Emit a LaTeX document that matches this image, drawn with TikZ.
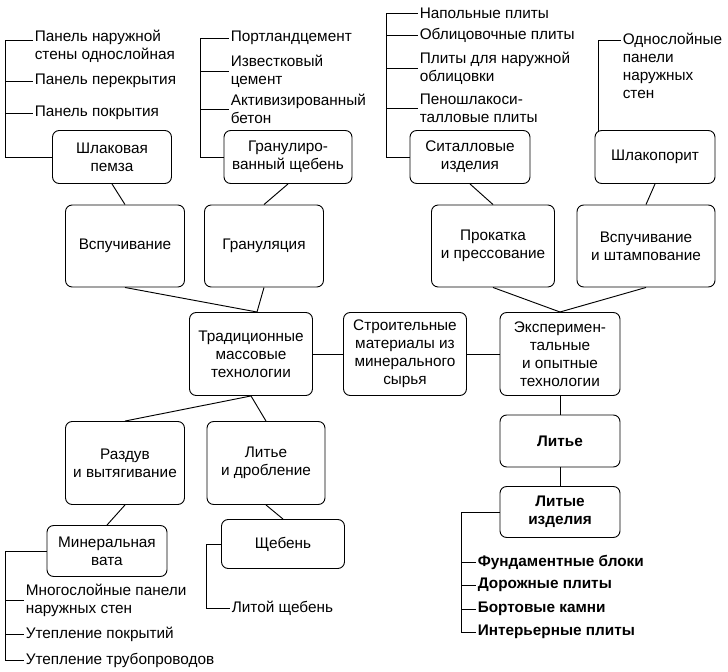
\documentclass[tikz,border=0pt]{standalone}
\usepackage{fontspec}
\setmainfont{Liberation Sans}
\usetikzlibrary{positioning}
\tikzset{
  box/.style={draw, rounded corners=5pt, align=center, inner sep=2pt},
  item/.style={anchor=west, align=left, inner sep=1pt},
  link/.style={line width=0.7pt}
}
\begin{document}
\begin{tikzpicture}[x=0.75pt,y=-0.75pt,font=\fontsize{11.5}{13.5}\selectfont,line width=0.7pt]
\useasboundingbox (0,0) rectangle (728,671);

% centre
\node[box,minimum width=123*0.75pt,minimum height=83*0.75pt] (trad) at (251,354) {Традиционные\\массовые\\технологии};
\node[box,minimum width=123*0.75pt,minimum height=83*0.75pt] (mat) at (405,354) {Строительные\\материалы из\\минерального\\сырья};
\node[box,minimum width=120*0.75pt,minimum height=83*0.75pt] (exp) at (560,354) {Эксперимен-\\тальные\\и опытные\\технологии};

% upper left
\node[box,minimum width=119*0.75pt,minimum height=82*0.75pt] (vsp) at (125,246) {Вспучивание};
\node[box,minimum width=119*0.75pt,minimum height=82*0.75pt] (gran) at (264,246) {Грануляция};
\node[box,minimum width=119*0.75pt,minimum height=53*0.75pt] (pemz) at (112,157) {Шлаковая\\пемза};
\node[box,minimum width=128*0.75pt,minimum height=53*0.75pt] (shcheb) at (288,157) {Гранулиро-\\ванный щебень};

% upper right
\node[box,minimum width=123*0.75pt,minimum height=82*0.75pt] (prok) at (493,246) {Прокатка\\и прессование};
\node[box,minimum width=138*0.75pt,minimum height=82*0.75pt] (shtamp) at (646,246) {Вспучивание\\и штампование};
\node[box,minimum width=120*0.75pt,minimum height=53*0.75pt] (sital) at (470,157) {Ситалловые\\изделия};
\node[box,minimum width=120*0.75pt,minimum height=53*0.75pt] (shlak) at (655,157) {Шлакопорит};

% lower left
\node[box,minimum width=119*0.75pt,minimum height=83*0.75pt] (razd) at (125,463) {Раздув\\и вытягивание};
\node[box,minimum width=118*0.75pt,minimum height=83*0.75pt] (litdr) at (266,463) {Литье\\и дробление};
\node[box,minimum width=120*0.75pt,minimum height=51*0.75pt] (vata) at (107,551) {Минеральная\\вата};
\node[box,minimum width=123*0.75pt,minimum height=49*0.75pt] (sheb) at (283,544) {Щебень};

% lower right
\node[box,minimum width=120*0.75pt,minimum height=52*0.75pt,font=\fontsize{11.5}{13.5}\selectfont\bfseries] (lit) at (560,441) {Литье};
\node[box,minimum width=120*0.75pt,minimum height=51*0.75pt,font=\fontsize{11.5}{13.5}\selectfont\bfseries] (litiz) at (560,512) {Литые\\изделия};

% links
\coordinate (tt) at (257,312);
\coordinate (et) at (560,312);
\draw[link] (pemz.south) -- (vsp.north);
\draw[link] (shcheb.south) -- (gran.north);
\draw[link] (vsp.south) -- (tt);
\draw[link] (gran.south) -- (tt);
\draw[link] (sital.south) -- (prok.north);
\draw[link] (shlak.south) -- (shtamp.north);
\draw[link] (prok.south) -- (et);
\draw[link] (shtamp.south) -- (et);
\draw[link] (trad) -- (mat);
\draw[link] (mat) -- (exp);
\draw[link] (trad.south) -- (razd.north);
\draw[link] (trad.south) -- (litdr.north);
\draw[link] (razd.south) -- (vata.north);
\draw[link] (litdr.south) -- (sheb.north);
\draw[link] (exp) -- (lit);
\draw[link] (lit) -- (litiz);

% list: Шлаковая пемза
\node[item] (p1) at (33,46) {Панель наружной\\стены однослойная};
\node[item] (p2) at (33,81) {Панель перекрытия};
\node[item] (p3) at (33,113) {Панель покрытия};
\coordinate (pb) at (5,40);
\draw (pemz.west) -| (pb) -- (pb -| p1.west);
\draw (pb |- p2.west) -- (p2.west);
\draw (pb |- p3.west) -- (p3.west);

% list: Гранулированный щебень
\node[item] (g1) at (229,38) {Портландцемент};
\node[item] (g2) at (229,71) {Известковый\\цемент};
\node[item] (g3) at (229,109) {Активизированный\\бетон};
\coordinate (gb) at (200,38);
\draw (shcheb.west) -| (gb) -- (g1.west);
\draw (gb |- g2.west) -- (g2.west);
\draw (gb |- g3.west) -- (g3.west);

% list: Ситалловые изделия
\node[item] (s1) at (418,13) {Напольные плиты};
\node[item] (s2) at (418,35) {Облицовочные плиты};
\node[item] (s3) at (418,68) {Плиты для наружной\\облицовки};
\node[item] (s4) at (418,108) {Пеношлакоси-\\талловые плиты};
\coordinate (sb) at (386,13);
\draw (sital.west) -| (sb) -- (s1.west);
\draw (sb |- s2.west) -- (s2.west);
\draw (sb |- s3.west) -- (s3.west);
\draw (sb |- s4.west) -- (s4.west);

% list: Шлакопорит
\node[item,anchor=north west] (k1) at (621,31) {Однослойные\\панели\\наружных\\стен};
\coordinate (kb) at (598,40);
\draw (598,130.5) -- (kb) -- (kb -| k1.west);

% list: Минеральная вата
\node[item] (v1) at (24,600) {Многослойные панели\\наружных стен};
\node[item] (v2) at (24,634) {Утепление покрытий};
\node[item] (v3) at (24,660) {Утепление трубопроводов};
\coordinate (vb) at (5,660);
\draw (vata.west) -| (vb) -- (v3.west);
\draw (vb |- v1.west) -- (v1.west);
\draw (vb |- v2.west) -- (v2.west);

% list: Щебень
\node[item] (h1) at (230,608) {Литой щебень};
\coordinate (hb) at (206,608);
\draw (sheb.west) -| (hb) -- (h1.west);

% list: Литые изделия
\begin{scope}[every node/.style={item,font=\fontsize{11.5}{13.5}\selectfont\bfseries}]
\node (l1) at (476,562) {Фундаментные блоки};
\node (l2) at (476,585) {Дорожные плиты};
\node (l3) at (476,609) {Бортовые камни};
\node (l4) at (476,632) {Интерьерные плиты};
\end{scope}
\coordinate (lb) at (461,632);
\draw (litiz.west) -| (lb) -- (l4.west);
\draw (lb |- l1.west) -- (l1.west);
\draw (lb |- l2.west) -- (l2.west);
\draw (lb |- l3.west) -- (l3.west);
\end{tikzpicture}
\end{document}
